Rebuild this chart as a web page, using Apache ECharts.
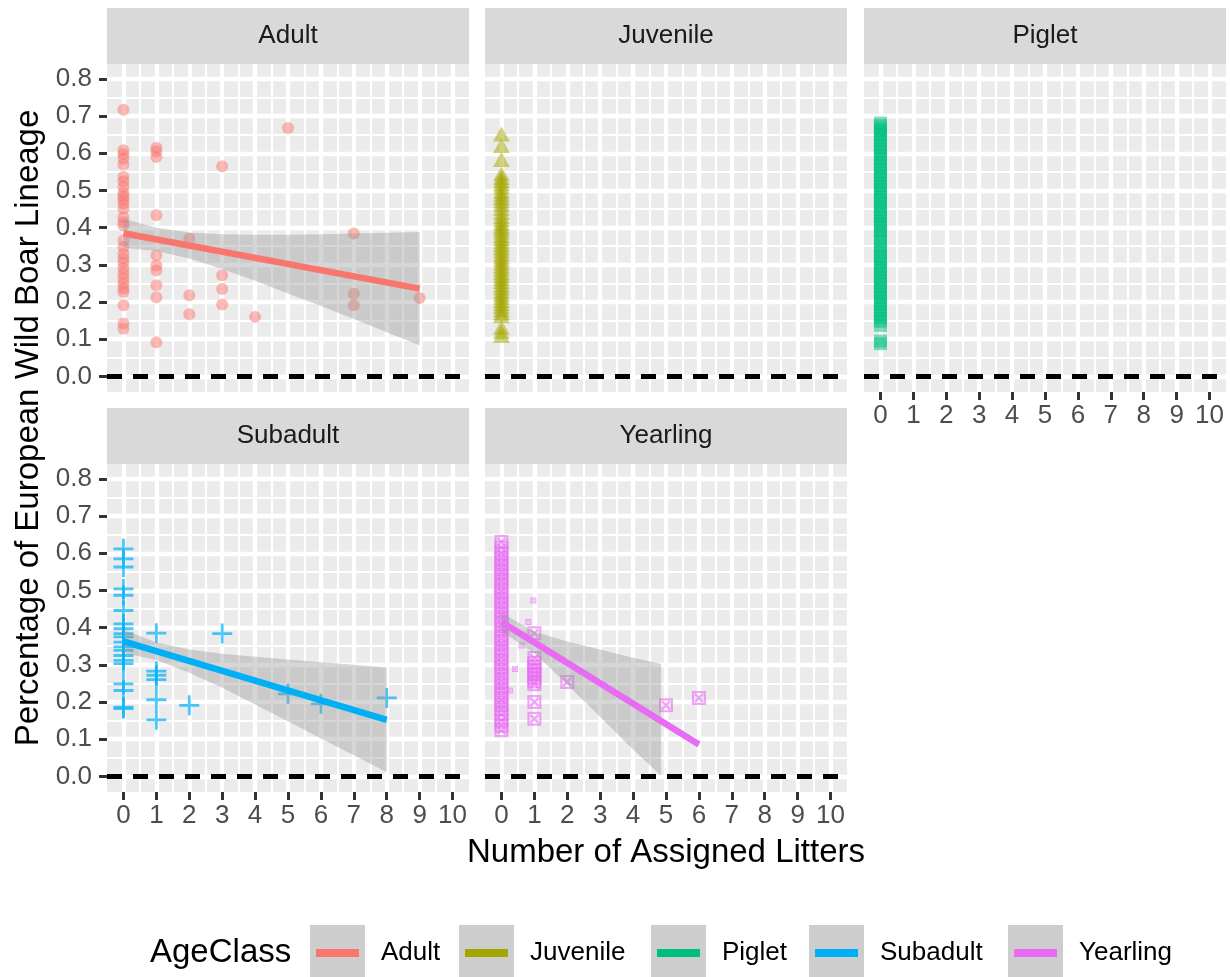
<!DOCTYPE html>
<html><head><meta charset="utf-8">
<script src="https://cdn.jsdelivr.net/npm/echarts@6/dist/echarts.min.js"></script>
<style>html,body{margin:0;padding:0;background:#fff}#c{width:1230px;height:977px}</style>
</head><body><div id="c"></div><script>
// ---------- data ----------
const panels = ['Adult', 'Juvenile', 'Piglet', 'Subadult', 'Yearling'];
const colors = ['#F8766D', '#A3A500', '#00BF7D', '#00B0F6', '#E76BF3'];
const xTicks = [0, 1, 2, 3, 4, 5, 6, 7, 8, 9, 10];
const xMinor = [0.5, 1.5, 2.5, 3.5, 4.5, 5.5, 6.5, 7.5, 8.5, 9.5];
const yTicks = [0, 0.1, 0.2, 0.3, 0.4, 0.5, 0.6, 0.7, 0.8];
const yMinor = [0.05, 0.15, 0.25, 0.35, 0.45, 0.55, 0.65, 0.75];
const hlineValue = 0;

const adultPoints = [
  [0,0.717],[0,0.608],[0,0.597],[0,0.585],[0,0.570],[0,0.536],[0,0.525],[0,0.509],[0,0.493],[0,0.484],
  [0,0.475],[0,0.464],[0,0.451],[0,0.428],[0,0.415],[0,0.406],[0,0.366],[0,0.348],[0,0.330],[0,0.317],
  [0,0.305],[0,0.290],[0,0.276],[0,0.263],[0,0.250],[0,0.236],[0,0.227],[0,0.191],[0,0.142],[0,0.128],
  [1,0.615],[1,0.605],[1,0.590],[1,0.433],[1,0.325],[1,0.298],[1,0.285],[1,0.245],[1,0.213],[1,0.092],
  [2,0.370],[2,0.218],[2,0.167],
  [3,0.565],[3,0.272],[3,0.235],[3,0.193],
  [4,0.160],
  [5,0.668],
  [7,0.384],[7,0.222],[7,0.191],
  [9,0.211]
];
const adultFit = [[0, 0.385], [9, 0.236]];
const adultRibbonX  = [0, 1, 2, 3, 4, 5, 6, 7, 8, 9];
const adultRibbonLo = [0.346, 0.337, 0.317, 0.289, 0.257, 0.223, 0.189, 0.154, 0.119, 0.084];
const adultRibbonHi = [0.424, 0.400, 0.387, 0.382, 0.381, 0.381, 0.382, 0.384, 0.386, 0.388];

const juvenileX = 0;
const juvenileY = [0.652,0.621,0.583,0.545,0.535,0.527,0.518,0.509,0.498,0.490,0.481,0.472,0.463,0.452,
  0.441,0.430,0.421,0.412,0.404,0.396,0.388,0.379,0.371,0.362,0.354,0.346,0.338,0.329,0.321,0.313,0.305,
  0.296,0.288,0.279,0.271,0.263,0.255,0.246,0.238,0.229,0.221,0.213,0.204,0.196,0.188,0.179,0.171,0.163,
  0.132,0.121,0.110];

const pigletX = 0;
const pigletY = [0.681,0.674,0.666,0.659,0.650,0.641,0.632,0.622,0.613,0.604,0.595,0.586,0.576,0.567,
  0.558,0.549,0.540,0.530,0.521,0.512,0.503,0.494,0.484,0.475,0.466,0.457,0.448,0.438,0.429,0.420,0.411,
  0.402,0.392,0.383,0.374,0.365,0.350,0.341,0.332,0.322,0.313,0.304,0.295,0.286,0.276,0.267,0.258,0.249,
  0.240,0.230,0.221,0.212,0.203,0.194,0.184,0.175,0.166,0.157,0.148,0.137,0.095,0.088];

const subadultPoints = [
  [0,0.612],[0,0.585],[0,0.563],[0,0.504],[0,0.487],[0,0.446],[0,0.410],[0,0.397],[0,0.384],[0,0.375],
  [0,0.361],[0,0.348],[0,0.339],[0,0.325],[0,0.312],[0,0.303],[0,0.249],[0,0.231],[0,0.186],[0,0.182],
  [1,0.385],[1,0.283],[1,0.272],[1,0.260],[1,0.206],[1,0.152],
  [2,0.191],[3,0.384],[5,0.222],[6,0.195],[8,0.211]
];
const subadultFit = [[0, 0.363], [8, 0.152]];
const subadultRibbonX  = [0, 1, 2, 3, 4, 5, 6, 7, 8];
const subadultRibbonLo = [0.332, 0.313, 0.279, 0.238, 0.193, 0.148, 0.102, 0.057, 0.011];
const subadultRibbonHi = [0.394, 0.360, 0.341, 0.330, 0.322, 0.314, 0.307, 0.300, 0.293];

const yearlingPoints = [
  [0,0.630],[0,0.615],[0,0.600],[0,0.588],[0,0.575],[0,0.562],[0,0.550],[0,0.537],[0,0.524],[0,0.511],
  [0,0.498],[0,0.486],[0,0.473],[0,0.460],[0,0.447],[0,0.435],[0,0.422],[0,0.409],[0,0.396],[0,0.384],
  [0,0.371],[0,0.358],[0,0.345],[0,0.333],[0,0.320],[0,0.307],[0,0.294],[0,0.282],[0,0.269],[0,0.256],
  [0,0.243],[0,0.231],[0,0.218],[0,0.205],[0,0.192],[0,0.180],[0,0.167],[0,0.150],[0,0.137],[0,0.124],
  [1,0.385],[1,0.318],[1,0.305],[1,0.295],[1,0.285],[1,0.275],[1,0.265],[1,0.255],[1,0.248],[1,0.200],[1,0.155],
  [2,0.254],[5,0.191],[6,0.211]
];
const yearlingSmall = [[0.10,0.388],[0.26,0.231],[0.41,0.289],[0.61,0.352],[0.82,0.415],[0.97,0.473]];
const yearlingFit = [[0, 0.415], [6, 0.086]];
const yearlingRibbonX  = [0, 1, 2, 3, 4, 4.85];
const yearlingRibbonLo = [0.390, 0.331, 0.247, 0.160, 0.072, 0.002];
const yearlingRibbonHi = [0.440, 0.389, 0.363, 0.341, 0.319, 0.302];

// ---------- layout / style ----------
const FONT = '"Liberation Sans", Arial, sans-serif';
const colLeft = [107, 485, 864];
const rowTop = [64, 464];
const PW = 362, PH = 328, STRIP = 56;
const panelPos = [[0,0],[1,0],[2,0],[0,1],[1,1]];
const showX = [false, false, true, true, true];
const showY = [true, false, false, true, false];

const plusPath = 'path://M8.6,0h2.8v8.6h8.6v2.8h-8.6v8.6h-2.8v-8.6h-8.6v-2.8h8.6z';
const sqCrossPath = 'path://M0,0H14V14H0Z M2.2,2.2V11.8H11.8V2.2Z M2.2,3.9L3.9,2.2L11.8,10.1L10.1,11.8Z M10.1,2.2L11.8,3.9L3.9,11.8L2.2,10.1Z';

const grids = [], xAxes = [], yAxes = [], series = [], graphics = [], legends = [];

panelPos.forEach(([c, r], gi) => {
  const left = colLeft[c], top = rowTop[r];
  grids.push({left: left, top: top, width: PW, height: PH, show: true,
    backgroundColor: '#ebebeb', borderWidth: 0, containLabel: false});
  xAxes.push({type: 'value', gridIndex: gi, min: -0.5, max: 10.5, position: 'bottom',
    axisLine: {show: false, onZero: false},
    axisTick: {show: showX[gi], customValues: xTicks, length: 8, lineStyle: {color: '#333333', width: 3}},
    axisLabel: {show: showX[gi], customValues: xTicks, fontSize: 26, color: '#4d4d4d', margin: 11, fontFamily: FONT},
    splitLine: {show: true, customValues: xTicks, lineStyle: {color: '#ffffff', width: 4.3}},
    minorTick: {show: false}, minorSplitLine: {show: false}});
  xAxes.push({type: 'value', gridIndex: gi, min: -0.5, max: 10.5, position: 'bottom',
    axisLine: {show: false, onZero: false},
    axisTick: {show: false, customValues: xMinor},
    axisLabel: {show: false, customValues: xMinor},
    splitLine: {show: true, customValues: xMinor, lineStyle: {color: '#ffffff', width: 2.2}}});
  yAxes.push({type: 'value', gridIndex: gi, min: -0.042, max: 0.84, position: 'left',
    axisLine: {show: false, onZero: false},
    axisTick: {show: showY[gi], customValues: yTicks, length: 8, lineStyle: {color: '#333333', width: 3}},
    axisLabel: {show: showY[gi], customValues: yTicks, fontSize: 26, color: '#4d4d4d', margin: 15, fontFamily: FONT,
      formatter: v => Number(v).toFixed(1)},
    splitLine: {show: true, customValues: yTicks, lineStyle: {color: '#ffffff', width: 4.3}},
    minorTick: {show: false}, minorSplitLine: {show: false}});
  yAxes.push({type: 'value', gridIndex: gi, min: -0.042, max: 0.84, position: 'left',
    axisLine: {show: false, onZero: false},
    axisTick: {show: false, customValues: yMinor},
    axisLabel: {show: false, customValues: yMinor},
    splitLine: {show: true, customValues: yMinor, lineStyle: {color: '#ffffff', width: 2.2}}});
  graphics.push({type: 'rect', z: 1, silent: true, shape: {x: left, y: top - STRIP, width: PW, height: STRIP},
    style: {fill: '#d9d9d9'}});
  graphics.push({type: 'text', z: 2, silent: true, x: left + PW / 2, y: top - STRIP / 2,
    style: {text: panels[gi], fontSize: 26, fontFamily: FONT, fill: '#1a1a1a', align: 'center', verticalAlign: 'middle'}});
});

function ax(gi) { return {xAxisIndex: gi * 2, yAxisIndex: gi * 2}; }

function scatter(gi, data, symbol, size, opacity) {
  return Object.assign({type: 'scatter', name: panels[gi], data: data, symbol: symbol, symbolSize: size,
    itemStyle: {color: colors[gi], opacity: opacity}, z: 2, silent: true, animation: false}, ax(gi));
}
function hline(gi) {
  return Object.assign({type: 'line', name: '_h' + gi, data: [], silent: true, animation: false, z: 6,
    markLine: {silent: true, symbol: ['none', 'none'], animation: false, label: {show: false},
      lineStyle: {color: '#000000', width: 5, type: [15, 11]}, data: [{yAxis: hlineValue}]}}, ax(gi));
}
function ribbon(gi, xs, lo, hi) {
  return Object.assign({type: 'custom', name: panels[gi], silent: true, animation: false, z: 3,
    data: xs.map((x, i) => [x, lo[i], hi[i]]),
    encode: {x: 0, y: [1, 2]},
    renderItem: function (params, api) {
      if (params.dataIndex !== 0) return;
      const topPts = xs.map((x, i) => api.coord([x, hi[i]]));
      const botPts = xs.map((x, i) => api.coord([x, lo[i]])).reverse();
      return {type: 'polygon', shape: {points: topPts.concat(botPts)}, style: {fill: 'rgba(153,153,153,0.4)'}};
    }}, ax(gi));
}
function fit(gi, data) {
  return Object.assign({type: 'line', name: panels[gi], data: data, symbol: 'none', silent: true, animation: false,
    lineStyle: {color: colors[gi], width: 6.5}, z: 4}, ax(gi));
}

series.push(scatter(0, adultPoints, 'circle', 12, 0.5));
series.push(ribbon(0, adultRibbonX, adultRibbonLo, adultRibbonHi));
series.push(fit(0, adultFit));
series.push(hline(0));
series.push(scatter(1, juvenileY.map(y => [juvenileX, y]), 'triangle', [17, 15], 0.5));
series.push(hline(1));
series.push(scatter(2, pigletY.map(y => [pigletX, y]), 'rect', 13, 0.5));
series.push(hline(2));
series.push(scatter(3, subadultPoints, plusPath, 20, 0.7));
series.push(ribbon(3, subadultRibbonX, subadultRibbonLo, subadultRibbonHi));
series.push(fit(3, subadultFit));
series.push(hline(3));
series.push(scatter(4, yearlingPoints, sqCrossPath, 14, 0.6));
series.push(scatter(4, yearlingSmall, sqCrossPath, 6, 0.6));
series.push(ribbon(4, yearlingRibbonX, yearlingRibbonLo, yearlingRibbonHi));
series.push(fit(4, yearlingFit));
series.push(hline(4));

const keyLeft = [310, 459, 651, 809, 1008];
const KEY = 55;
panels.forEach((p, i) => {
  graphics.push({type: 'rect', z: 1, silent: true, shape: {x: keyLeft[i], y: 925, width: KEY, height: KEY},
    style: {fill: '#cdcdcd'}});
  legends.push({show: true, data: [{name: p, icon: 'rect'}], left: keyLeft[i] + 6, top: 940, padding: 0,
    itemWidth: 43, itemHeight: 8, selectedMode: false, z: 5,
    itemStyle: {color: colors[i], opacity: 1, borderWidth: 0},
    textStyle: {fontSize: 26, color: '#000000', fontFamily: FONT, padding: [0, 0, 0, 17]}});
});
graphics.push({type: 'text', z: 2, silent: true, x: 150, y: 953,
  style: {text: 'AgeClass', fontSize: 33, fontFamily: FONT, fill: '#000000', align: 'left', verticalAlign: 'middle'}});
graphics.push({type: 'text', z: 2, silent: true, x: 666, y: 853,
  style: {text: 'Number of Assigned Litters', fontSize: 33, fontFamily: FONT, fill: '#000000', align: 'center', verticalAlign: 'middle'}});
graphics.push({type: 'text', z: 2, silent: true, x: 29, y: 428, rotation: Math.PI / 2,
  style: {text: 'Percentage of European Wild Boar Lineage', fontSize: 33, fontFamily: FONT, fill: '#000000', align: 'center', verticalAlign: 'middle'}});

const chart = echarts.init(document.getElementById('c'), null, {renderer: 'canvas'});
chart.setOption({
  backgroundColor: '#ffffff',
  animation: false,
  grid: grids, xAxis: xAxes, yAxis: yAxes, series: series,
  legend: legends, graphic: graphics, tooltip: {show: false}
});
</script></body></html>
